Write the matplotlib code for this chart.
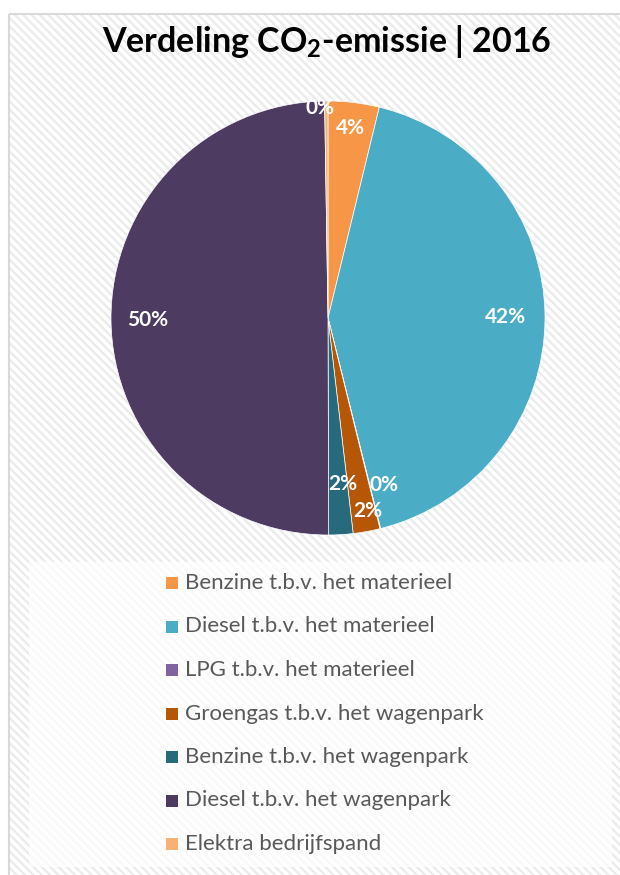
import matplotlib
matplotlib.use('Agg')
import matplotlib.pyplot as plt
import numpy as np
from matplotlib.patches import Rectangle

plt.rcParams['font.family'] = ['Lato', 'DejaVu Sans']

labels = ['Benzine t.b.v. het materieel', 'Diesel t.b.v. het materieel',
          'LPG t.b.v. het materieel', 'Groengas t.b.v. het wagenpark',
          'Benzine t.b.v. het wagenpark', 'Diesel t.b.v. het wagenpark',
          'Elektra bedrijfspand']
values = [3.8, 42.3, 0.05, 2.0, 1.8, 49.8, 0.25]
pct_text = ['4%', '42%', '0%', '2%', '2%', '50%', '0%']
colors = ['#F79646', '#4BACC6', '#8064A2', '#B65708', '#276A7C', '#4D3B62', '#F9B074']
# label radius (fraction of r) and clockwise angular nudge (deg) per slice
label_r = [0.88, 0.82, 0.81, 0.91, 0.77, 0.83, 0.97]
label_da = [0, 0, -4.6, -1.3, -1.8, 0, -1.8]

W, H = 620, 875
fig = plt.figure(figsize=(W / 100, H / 100), dpi=100)

# background frame with diagonal stripes
bg = fig.add_axes([0, 0, 1, 1])
bg.set_xlim(0, W)
bg.set_ylim(H, 0)
bg.axis('off')
plt.rcParams['hatch.linewidth'] = 1.6
bg.add_patch(Rectangle((8.5, 13.5), 700, 900, facecolor='white', edgecolor='#EBEBEB',
                       hatch='\\\\\\\\', linewidth=0))
bg.add_patch(Rectangle((8.5, 13.5), 700, 900, facecolor='none', edgecolor='#D9D9D9',
                       linewidth=1.5))
bg.add_patch(Rectangle((29, 562), 583, 305, facecolor='white', edgecolor='none', alpha=0.75))

bg.text(327, 42, 'Verdeling CO$_\\mathregular{2}$-emissie | 2016', ha='center', va='center',
        fontsize=24.5, fontweight='bold', color='black')

# pie
cx, cy, r = 328, 318, 217
ax = fig.add_axes([(cx - r) / W, 1 - (cy + r) / H, 2 * r / W, 2 * r / H])
wedges, _ = ax.pie(values, colors=colors, startangle=90, counterclock=False,
                   wedgeprops=dict(edgecolor='white', linewidth=0.5))
ax.set_xlim(-1, 1)
ax.set_ylim(-1, 1)
ax.set_aspect('auto')
for w, t, lr, da in zip(wedges, pct_text, label_r, label_da):
    ang = np.deg2rad((w.theta1 + w.theta2) / 2 - da)
    ax.text(lr * np.cos(ang), lr * np.sin(ang), t, ha='center', va='center',
            color='white', fontsize=15, fontweight='bold')

# legend
y0, dy = 583, 43.5
for i, (lab, c) in enumerate(zip(labels, colors)):
    y = y0 + i * dy
    bg.add_patch(Rectangle((166, y - 6), 12, 12, facecolor=c, edgecolor='none'))
    bg.text(185, y, lab, ha='left', va='center', fontsize=16, color='#595959')

fig.savefig('out.png', dpi=100)
